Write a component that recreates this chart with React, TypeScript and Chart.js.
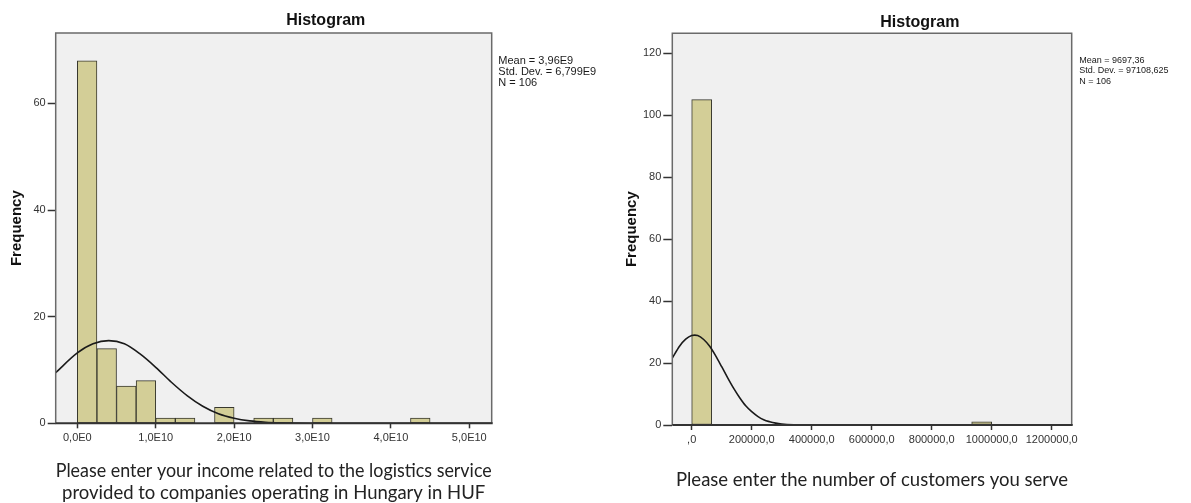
import React, { useEffect, useRef } from "react";
import { Chart, registerables } from "chart.js";

Chart.register(...registerables);

// ---------- Left histogram: income (HUF) ----------
const incomeBinStart = [0, 2.5e9, 5e9, 7.5e9, 1e10, 1.25e10, 1.5e10, 1.75e10, 2e10, 2.25e10, 2.5e10, 2.75e10, 3e10, 3.25e10, 3.5e10, 3.75e10, 4e10, 4.25e10];
const incomeBinWidth = 2.5e9;
const incomeCounts = [68, 14, 7, 8, 1, 1, 0, 3, 0, 1, 1, 0, 1, 0, 0, 0, 0, 1];
const incomeCurveX = [-2.76e9, 0, 2e9, 4e9, 6e9, 8e9, 1e10, 1.2e10, 1.4e10, 1.6e10, 1.8e10, 2e10, 2.2e10, 2.4e10, 2.6e10, 2.8e10, 3e10, 3.4e10, 4e10, 5.29e10];
const incomeCurveY = [9.5, 13.2, 14.9, 15.5, 14.9, 13.0, 10.5, 7.7, 5.2, 3.2, 1.8, 0.96, 0.46, 0.2, 0.08, 0.03, 0.01, 0, 0, 0];
const incomeXRange = [-2.76e9, 5.286e10];
const incomeYMax = 73.2;
const incomeXTicks = [0, 1e10, 2e10, 3e10, 4e10, 5e10];
const incomeXTickLabels = ["0,0E0", "1,0E10", "2,0E10", "3,0E10", "4,0E10", "5,0E10"];
const incomeYTicks = [0, 20, 40, 60];
const incomeStats = ["Mean = 3,96E9", "Std. Dev. = 6,799E9", "N = 106"];
const incomeCaption = [
  "Please enter your income related to the logistics service",
  "provided to companies operating in Hungary in HUF",
];

// ---------- Right histogram: number of customers ----------
const custBinStart = [0, 66667, 133333, 200000, 266667, 333333, 400000, 466667, 533333, 600000, 666667, 733333, 800000, 866667, 933333];
const custBinWidth = 66667;
const custCounts = [105, 0, 0, 0, 0, 0, 0, 0, 0, 0, 0, 0, 0, 0, 1];
const custCurveX = [-64667, -40000, -20000, 0, 10000, 20000, 40000, 60000, 80000, 100000, 120000, 140000, 160000, 180000, 200000, 220000, 240000, 260000, 280000, 300000, 340000, 400000, 500000, 1266667];
const custCurveY = [21.6, 25.5, 27.7, 28.9, 29.0, 28.9, 27.6, 25.4, 22.3, 18.8, 15.2, 11.8, 8.8, 6.2, 4.3, 2.8, 1.7, 1.05, 0.6, 0.33, 0.09, 0.01, 0, 0];
const custXRange = [-64667, 1266667];
const custYMax = 126.4;
const custXTicks = [0, 200000, 400000, 600000, 800000, 1000000, 1200000];
const custXTickLabels = [",0", "200000,0", "400000,0", "600000,0", "800000,0", "1000000,0", "1200000,0"];
const custYTicks = [0, 20, 40, 60, 80, 100, 120];
const custStats = ["Mean = 9697,36", "Std. Dev. = 97108,625", "N = 106"];
const custCaption = "Please enter the number of customers you serve";

const histTitle = "Histogram";
const yTitle = "Frequency";

const SANS = "'Liberation Sans', Arial, sans-serif";
const CAPTION_FONT = "Lato, 'Open Sans', sans-serif";

const overlayPlugin = {
  id: "spssOverlay",
  beforeDraw(chart: any) {
    const { ctx, chartArea: ca } = chart;
    ctx.save();
    ctx.fillStyle = "#f0f0f0";
    ctx.fillRect(ca.left, ca.top, ca.right - ca.left, ca.bottom - ca.top);
    ctx.restore();
  },
  afterDraw(chart: any, _a: any, opts: any) {
    const { ctx, chartArea: ca } = chart;
    ctx.save();
    // frame
    ctx.strokeStyle = "#6a6a6a";
    ctx.lineWidth = 1.5;
    ctx.beginPath();
    ctx.moveTo(ca.left, ca.bottom);
    ctx.lineTo(ca.left, ca.top);
    ctx.lineTo(ca.right, ca.top);
    ctx.lineTo(ca.right, ca.bottom);
    ctx.stroke();
    ctx.strokeStyle = "#333333";
    ctx.lineWidth = 2;
    ctx.beginPath();
    ctx.moveTo(ca.left, ca.bottom);
    ctx.lineTo(ca.right + 1, ca.bottom);
    ctx.stroke();
    // title
    ctx.fillStyle = "#111";
    ctx.font = `bold 16px ${SANS}`;
    ctx.textAlign = "center";
    ctx.textBaseline = "alphabetic";
    ctx.fillText(opts.title, opts.titleX, opts.titleY);
    // stats
    ctx.font = `${opts.statsSize}px ${SANS}`;
    ctx.textAlign = "left";
    ctx.textBaseline = "middle";
    ctx.fillStyle = "#1a1a1a";
    opts.stats.forEach((s: string, i: number) => {
      ctx.fillText(s, opts.statsX, opts.statsY + i * opts.statsGap);
    });
    ctx.restore();
  },
};

type HistProps = {
  left: number;
  width: number;
  binStart: number[];
  binWidth: number;
  counts: number[];
  curveX: number[];
  curveY: number[];
  xRange: number[];
  yMax: number;
  xTicks: number[];
  xTickLabels: string[];
  yTicks: number[];
  stats: string[];
  caption: string | string[];
  layout: {
    yAxisWidth: number;
    top: number;
    right: number;
    xAxisHeight: number;
    titleX: number;
    titleY: number;
    statsX: number;
    statsY: number;
    statsGap: number;
    statsSize: number;
    yTitlePad: number;
    captionPad: number;
    yTickLen: number;
  };
};

function Histogram(p: HistProps) {
  const ref = useRef<HTMLCanvasElement>(null);
  useEffect(() => {
    const L = p.layout;
    const chart = new Chart(ref.current as HTMLCanvasElement, {
      type: "bar",
      data: {
        datasets: [
          {
            type: "line",
            data: p.curveX.map((x, i) => ({ x, y: p.curveY[i] })),
            borderColor: "#1a1a1a",
            borderWidth: 1.6,
            pointRadius: 0,
            cubicInterpolationMode: "monotone",
            fill: false,
            order: 1,
          } as any,
          {
            type: "bar",
            data: p.binStart.map((s, i) => ({ x: s + p.binWidth / 2, y: p.counts[i] })),
            backgroundColor: "#d3ce97",
            borderColor: "#38382e",
            borderWidth: 1,
            borderSkipped: false,
            barPercentage: 1,
            categoryPercentage: 1,
            order: 2,
          } as any,
        ],
      },
      options: {
        animation: false,
        responsive: false,
        events: [],
        layout: { padding: { left: 0, top: L.top, right: L.right, bottom: 0 } },
        plugins: {
          legend: { display: false },
          tooltip: { enabled: false },
          title: { display: false },
          spssOverlay: {
            title: histTitle,
            titleX: L.titleX,
            titleY: L.titleY,
            stats: p.stats,
            statsX: L.statsX,
            statsY: L.statsY,
            statsGap: L.statsGap,
            statsSize: L.statsSize,
          },
        } as any,
        scales: {
          x: {
            type: "linear",
            min: p.xRange[0],
            max: p.xRange[1],
            offset: false,
            afterBuildTicks: (s: any) => {
              s.ticks = p.xTicks.map((v) => ({ value: v }));
            },
            afterFit: (s: any) => {
              s.height = L.xAxisHeight;
            },
            grid: {
              display: true,
              drawOnChartArea: false,
              drawTicks: true,
              tickLength: 5,
              tickColor: "#333",
              tickWidth: 1.5,
              offset: false,
            },
            border: { display: false },
            ticks: {
              autoSkip: false,
              maxRotation: 0,
              minRotation: 0,
              padding: 3,
              color: "#333",
              font: { family: SANS, size: 11 },
              callback: (v: any) => {
                const i = p.xTicks.indexOf(Number(v));
                return i >= 0 ? p.xTickLabels[i] : "";
              },
            },
            title: {
              display: true,
              text: p.caption as any,
              color: "#222",
              font: { family: CAPTION_FONT, size: 18.5, lineHeight: 1.2 },
              padding: { top: 0, bottom: L.captionPad },
            },
          } as any,
          y: {
            type: "linear",
            min: 0,
            max: p.yMax,
            afterBuildTicks: (s: any) => {
              s.ticks = p.yTicks.map((v) => ({ value: v }));
            },
            afterFit: (s: any) => {
              s.width = L.yAxisWidth;
            },
            grid: {
              display: true,
              drawOnChartArea: false,
              drawTicks: true,
              tickLength: L.yTickLen,
              tickColor: "#333",
              tickWidth: 1.5,
            },
            border: { display: false },
            ticks: {
              padding: 2,
              color: "#333",
              font: { family: SANS, size: 11 },
            },
            title: {
              display: true,
              text: yTitle,
              color: "#111",
              font: { family: SANS, size: 15, weight: "bold", lineHeight: 1.2 },
              padding: { top: L.yTitlePad, bottom: 0 },
            },
          } as any,
        },
      },
      plugins: [overlayPlugin as any],
    });
    return () => chart.destroy();
  }, []);
  return (
    <canvas
      ref={ref}
      width={p.width}
      height={503}
      style={{ position: "absolute", left: p.left, top: 0, width: p.width, height: 503 }}
    />
  );
}

export default function App() {
  return (
    <div
      style={{
        position: "absolute",
        left: 0,
        top: 0,
        width: 1191,
        height: 503,
        background: "#ffffff",
        overflow: "hidden",
      }}
    >
      <Histogram
        left={0}
        width={600}
        binStart={incomeBinStart}
        binWidth={incomeBinWidth}
        counts={incomeCounts}
        curveX={incomeCurveX}
        curveY={incomeCurveY}
        xRange={incomeXRange}
        yMax={incomeYMax}
        xTicks={incomeXTicks}
        xTickLabels={incomeXTickLabels}
        yTicks={incomeYTicks}
        stats={incomeStats}
        caption={incomeCaption}
        layout={{
          yAxisWidth: 55.7,
          top: 33,
          right: 108.3,
          xAxisHeight: 79.7,
          titleX: 325.7,
          titleY: 25,
          statsX: 498.3,
          statsY: 61,
          statsGap: 10.8,
          statsSize: 11,
          yTitlePad: 8.3,
          captionPad: -1.5,
          yTickLen: 8,
        }}
      />
      <Histogram
        left={600}
        width={591}
        binStart={custBinStart}
        binWidth={custBinWidth}
        counts={custCounts}
        curveX={custCurveX}
        curveY={custCurveY}
        xRange={custXRange}
        yMax={custYMax}
        xTicks={custXTicks}
        xTickLabels={custXTickLabels}
        yTicks={custYTicks}
        stats={custStats}
        caption={custCaption}
        layout={{
          yAxisWidth: 72.3,
          top: 33.3,
          right: 119.3,
          xAxisHeight: 78,
          titleX: 319.8,
          titleY: 26.5,
          statsX: 479.3,
          statsY: 60.7,
          statsGap: 10.2,
          statsSize: 9,
          yTitlePad: 22.7,
          captionPad: 12,
          yTickLen: 9,
        }}
      />
    </div>
  );
}
